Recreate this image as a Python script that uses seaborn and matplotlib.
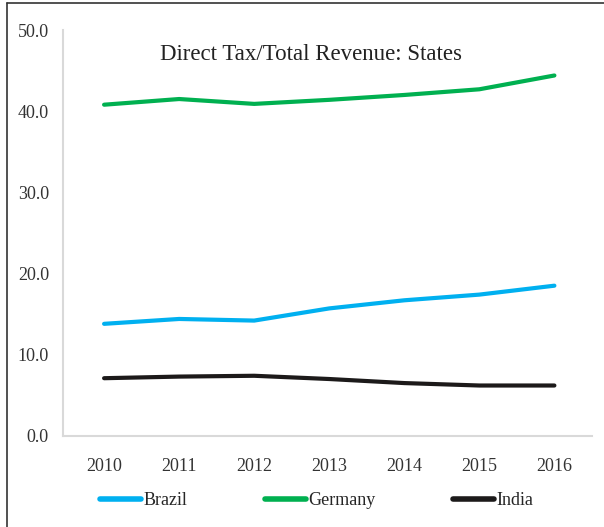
import pandas as pd
import matplotlib.pyplot as plt
import seaborn as sns
from matplotlib.lines import Line2D

# values
years = ['2010', '2011', '2012', '2013', '2014', '2015', '2016']
brazil = [13.8, 14.4, 14.2, 15.7, 16.7, 17.4, 18.5]
germany = [40.8, 41.5, 40.9, 41.4, 42.0, 42.7, 44.4]
india = [7.1, 7.3, 7.4, 7.0, 6.5, 6.2, 6.2]

df = pd.DataFrame({'Year': years, 'Brazil': brazil, 'Germany': germany, 'India': india})
long_df = df.melt(id_vars='Year', var_name='Country', value_name='Share')

sns.set_theme(style='white')
plt.rcParams['font.family'] = ['Liberation Serif', 'DejaVu Serif']

palette = {'Brazil': '#00B0F0', 'Germany': '#00B050', 'India': '#1C1A1A'}

fig = plt.figure(figsize=(6.04, 5.27), dpi=100)
ax = fig.add_axes([0.104, 0.173, 0.876, 0.770])

sns.lineplot(data=long_df, x='Year', y='Share', hue='Country', palette=palette,
             linewidth=3.0, sort=False, ax=ax, legend=False,
             solid_capstyle='round', solid_joinstyle='round')

ax.set_ylim(0, 50)
ax.set_xlim(-0.55, 6.5)
ax.set_yticks([0, 10, 20, 30, 40, 50])
ax.set_yticklabels([f'{v:.1f}' for v in [0, 10, 20, 30, 40, 50]])
ax.tick_params(axis='both', labelsize=13, colors='#333333', length=0)
ax.tick_params(axis='y', pad=10)
ax.tick_params(axis='x', pad=16)
ax.set_xlabel('')
ax.set_ylabel('')

for side in ['top', 'right']:
    ax.spines[side].set_visible(False)
for side in ['left', 'bottom']:
    ax.spines[side].set_color('#D9D9D9')
    ax.spines[side].set_linewidth(1.5)

ax.text(0.47, 0.965, 'Direct Tax/Total Revenue: States', transform=ax.transAxes,
        ha='center', va='top', fontsize=16.5, color='#222222')

handles = [Line2D([], [], color=palette[c], linewidth=4, solid_capstyle='round')
           for c in ['Brazil', 'Germany', 'India']]
fig.legend(handles, ['Brazil', 'Germany', 'India'], loc='center',
           bbox_to_anchor=(0.524, 0.05), ncol=3, frameon=False, fontsize=13,
           handlelength=2.3, handletextpad=0.1, columnspacing=4.3)

# frame lines at the left and top edge of the picture
fig.add_artist(Line2D([0.012, 0.012], [0, 0.995], transform=fig.transFigure,
                      color='#333333', linewidth=1.2))
fig.add_artist(Line2D([0.012, 1.0], [0.995, 0.995], transform=fig.transFigure,
                      color='#333333', linewidth=1.2))

fig.savefig('out.png', dpi=100)
